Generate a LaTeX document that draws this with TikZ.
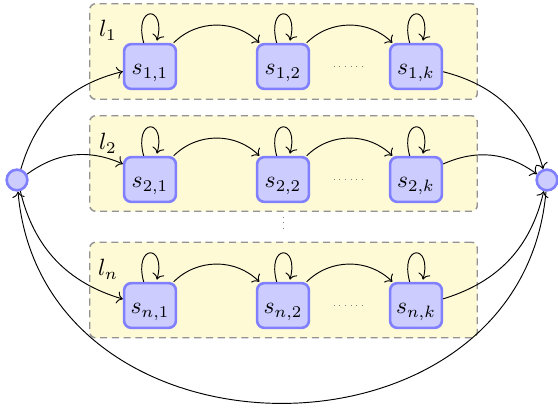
\documentclass[tikz,border=0pt]{standalone}
\usetikzlibrary{arrows.meta,calc}
\definecolor{lanefill}{RGB}{255,250,214}
\begin{document}
\begin{tikzpicture}[x=0.425pt,y=0.425pt,
 state/.style={rectangle, rounded corners=3pt, draw=blue!50, fill=blue!20, line width=1.1pt,
   minimum width=22pt, minimum height=19pt, text height=1.9ex, text depth=0.25ex, inner sep=0pt},
 endpt/.style={circle, draw=blue!50, fill=blue!20, line width=1.1pt, minimum size=8.8pt, inner sep=0pt},
 lane/.style={rectangle, rounded corners=2.5pt, draw=gray!85, densely dashed, semithick,
   fill=lanefill, minimum width=164.7pt, minimum height=40.6pt, inner sep=0pt},
 lanelabel/.style={inner sep=0pt},
 arr/.style={->},
 gapdots/.style={dotted, gray, thin},
]
\useasboundingbox (0,0) rectangle (558,-409);

% lanes
\node[lane] (lane1) at (283.5,-51.5) {};
\node[lane] (lane2) at (283.5,-163.5) {};
\node[lane] (lanen) at (283.5,-290) {};

\node[lanelabel] (lab1) at (108,-30.5) {$l_1$};
\node[lanelabel] (lab2) at (108,-143.5) {$l_2$};
\node[lanelabel] (labn) at (108,-269.5) {$l_n$};

% states
\node[state] (s11) at (150,-66.5) {$s_{1,1}$};
\node[state] (s12) at (283,-66.5) {$s_{1,2}$};
\node[state] (s1k) at (416,-66.5) {$s_{1,k}$};
\node[state] (s21) at (150,-179.5) {$s_{2,1}$};
\node[state] (s22) at (283,-179.5) {$s_{2,2}$};
\node[state] (s2k) at (416,-179.5) {$s_{2,k}$};
\node[state] (sn1) at (150,-305.5) {$s_{n,1}$};
\node[state] (sn2) at (283,-305.5) {$s_{n,2}$};
\node[state] (snk) at (416,-305.5) {$s_{n,k}$};

% end points
\node[endpt] (L) at (17,-180) {};
\node[endpt] (R) at (547,-180) {};

% loops
\foreach \n in {s11,s12,s1k,s21,s22,s2k,sn1,sn2,snk}
  \path[arr] (\n) edge[loop above] (\n);

% within lanes
\draw[arr] (s11) to[bend left=45] (s12);
\draw[arr] (s12) to[bend left=45] (s1k);
\draw[arr] (s21) to[bend left=45] (s22);
\draw[arr] (s22) to[bend left=45] (s2k);
\draw[arr] (sn1) to[bend left=45] (sn2);
\draw[arr] (sn2) to[bend left=45] (snk);

\draw[gapdots, shorten <=10pt, shorten >=10pt] (s12) -- (s1k);
\draw[gapdots, shorten <=10pt, shorten >=10pt] (s22) -- (s2k);
\draw[gapdots, shorten <=10pt, shorten >=10pt] (sn2) -- (snk);
\draw[gapdots, shorten <=2pt, shorten >=4.5pt] (lane2) -- (lanen);

% entry and exit
\draw[arr] (L) to[bend left] (s11);
\draw[arr] (L) to[bend left] (s21);
\draw[arr] (L) to[bend right] (sn1);
\draw[arr] (s1k) to[bend left] (R);
\draw[arr] (s2k) to[bend left] (R);
\draw[arr] (snk) to[bend right] (R);

% return
\draw[arr] (R) .. controls +(265:295) and +(275:295) .. (L);
\end{tikzpicture}
\end{document}
